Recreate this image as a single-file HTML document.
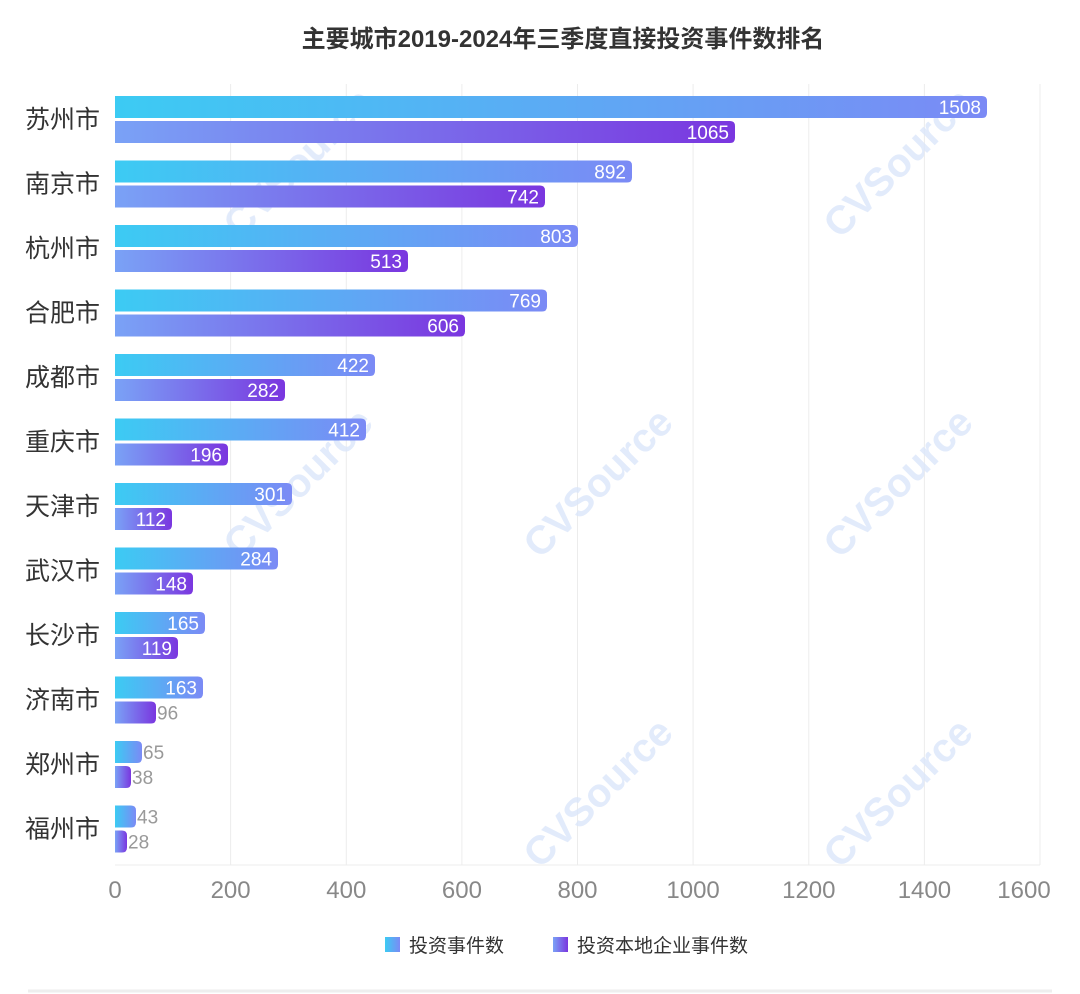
<!DOCTYPE html>
<html><head><meta charset="utf-8"><style>
body{margin:0;background:#fff;}
svg{display:block;font-family:"Liberation Sans","Noto Sans CJK SC",sans-serif;}
</style></head><body>
<svg width="1080" height="994" viewBox="0 0 1080 994" xmlns="http://www.w3.org/2000/svg">
<defs>
<linearGradient id="gb" x1="0" x2="1" y1="0" y2="0"><stop offset="0" stop-color="#3ccbf3"/><stop offset="1" stop-color="#7b8af5"/></linearGradient>
<linearGradient id="gp" x1="0" x2="1" y1="0" y2="0"><stop offset="0" stop-color="#7aa2f6"/><stop offset="1" stop-color="#7a36df"/></linearGradient>
</defs>
<text x="563" y="47" text-anchor="middle" font-size="24" font-weight="bold" fill="#333">主要城市2019-2024年三季度直接投资事件数排名</text>
<g stroke="#ececec" stroke-width="1">
<line x1="230.6" y1="84" x2="230.6" y2="865"/><line x1="346.3" y1="84" x2="346.3" y2="865"/><line x1="461.9" y1="84" x2="461.9" y2="865"/><line x1="577.5" y1="84" x2="577.5" y2="865"/><line x1="693.1" y1="84" x2="693.1" y2="865"/><line x1="808.8" y1="84" x2="808.8" y2="865"/><line x1="924.4" y1="84" x2="924.4" y2="865"/><line x1="1040" y1="84" x2="1040" y2="865"/>
<line x1="115" y1="865" x2="1040" y2="865"/>
</g>
<g font-size="40" font-weight="bold" fill="#dbe6fa" opacity="0.8">
<text transform="translate(240,240) rotate(-45)">CVSource</text>
<text transform="translate(540,560) rotate(-45)">CVSource</text>
<text transform="translate(840,240) rotate(-45)">CVSource</text>
<text transform="translate(840,560) rotate(-45)">CVSource</text>
<text transform="translate(240,560) rotate(-45)">CVSource</text>
<text transform="translate(540,870) rotate(-45)">CVSource</text>
<text transform="translate(840,870) rotate(-45)">CVSource</text>
</g>
<g id="bars"></g>
<g font-size="25" fill="#333" text-anchor="end" id="cats"></g>
<g font-size="24" fill="#888" text-anchor="middle">
<text x="115" y="898">0</text><text x="230.6" y="898">200</text><text x="346.3" y="898">400</text><text x="461.9" y="898">600</text><text x="577.5" y="898">800</text><text x="693.1" y="898">1000</text><text x="808.8" y="898">1200</text><text x="924.4" y="898">1400</text><text x="1024" y="898">1600</text>
</g>
<rect x="385" y="937" width="15" height="15" fill="url(#gb)"/>
<text x="409" y="952" font-size="19" fill="#333">投资事件数</text>
<rect x="553" y="937" width="15" height="15" fill="url(#gp)"/>
<text x="577" y="952" font-size="19" fill="#333">投资本地企业事件数</text>
<line x1="28" y1="991" x2="1052" y2="991" stroke="#eee" stroke-width="3"/>
</svg>
<script>
const d=[["苏州市",1508,987,1065,735],["南京市",892,632,742,545],["杭州市",803,578,513,408],["合肥市",769,547,606,465],["成都市",422,375,282,285],["重庆市",412,366,196,228],["天津市",301,292,112,172],["武汉市",284,278,148,193],["长沙市",165,205,119,178],["济南市",163,203,96,156],["郑州市",65,142,38,131],["福州市",43,136,28,127]];
let b="",c="";
function bar(v,e,y,g){const w=e-115,r=5;let s=`<path d="M115 ${y}H${e-r}Q${e} ${y} ${e} ${y+r}V${y+22-r}Q${e} ${y+22} ${e-r} ${y+22}H115Z" fill="url(#${g})"/>`;
 if(v>=100)s+=`<text x="${e-6}" y="${y+18}" font-size="19" fill="#fff" text-anchor="end">${v}</text>`;
 else s+=`<text x="${e+1}" y="${y+18}" font-size="19" fill="#999">${v}</text>`;return s;}
d.forEach((r,i)=>{const cy=119+64.5*i;b+=bar(r[1],r[2],cy-23,"gb")+bar(r[3],r[4],cy+2,"gp");c+=`<text x="100" y="${cy+9}">${r[0]}</text>`;});
document.getElementById("bars").innerHTML=b;document.getElementById("cats").innerHTML=c;
</script>
</body></html>
